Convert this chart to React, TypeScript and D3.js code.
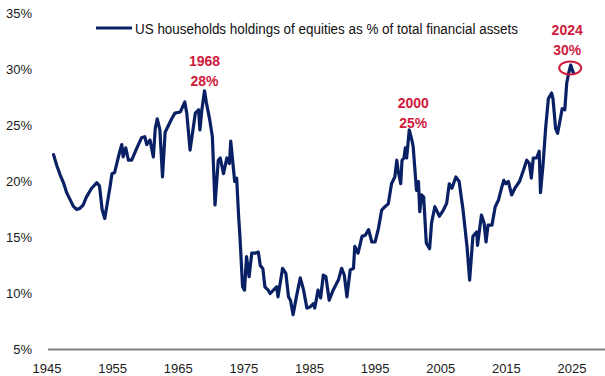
import React from "react";
import * as d3 from "d3";

const years: number[] = [
  1946.0, 1946.5, 1947.0, 1947.5, 1948.0, 1948.5, 1949.0, 1949.5, 1950.0, 1950.5,
  1951.0, 1951.8, 1952.6, 1953.0, 1953.4, 1953.8, 1954.6, 1954.9, 1955.3, 1955.8,
  1956.1, 1956.4, 1956.6, 1957.0, 1957.4, 1957.9, 1958.7, 1959.4, 1959.9, 1960.2,
  1960.7, 1961.2, 1961.5, 1961.8, 1962.2, 1962.6, 1963.0, 1963.5, 1964.0, 1964.5,
  1965.3, 1966.0, 1966.3, 1966.8, 1967.6, 1968.1, 1968.3, 1968.6, 1969.0, 1969.3,
  1969.8, 1970.2, 1970.6, 1971.1, 1971.4, 1971.9, 1972.4, 1972.8, 1973.0, 1973.3,
  1973.6, 1973.9, 1974.2, 1974.4, 1974.8, 1975.1, 1975.4, 1975.8, 1976.2, 1976.7,
  1977.2, 1977.5, 1977.9, 1978.2, 1978.7, 1979.0, 1979.5, 1980.0, 1980.2, 1980.9,
  1981.4, 1981.8, 1982.1, 1982.5, 1983.0, 1983.6, 1984.1, 1984.6, 1985.1, 1985.6,
  1985.8, 1986.3, 1986.7, 1987.1, 1987.5, 1988.0, 1988.6, 1989.4, 1989.9, 1990.3,
  1990.7, 1991.2, 1991.7, 1991.9, 1992.4, 1993.0, 1993.5, 1994.0, 1994.5, 1995.0,
  1995.5, 1996.0, 1996.5, 1997.0, 1997.5, 1998.0, 1998.3, 1998.5, 1998.9, 1999.1,
  1999.4, 1999.6, 1999.8, 2000.2, 2000.6, 2000.8, 2001.3, 2001.6, 2001.8, 2002.1,
  2002.4, 2002.8, 2003.3, 2003.6, 2004.1, 2004.8, 2005.4, 2005.9, 2006.3, 2006.7,
  2007.3, 2007.8, 2008.4, 2009.0, 2009.4, 2009.9, 2010.5, 2010.6, 2011.2, 2011.6,
  2011.9, 2012.2, 2012.8, 2013.3, 2013.8, 2014.3, 2014.6, 2014.9, 2015.3, 2015.8,
  2016.3, 2017.0, 2017.6, 2018.1, 2018.5, 2018.8, 2019.1, 2019.6, 2020.0, 2020.2,
  2020.6, 2021.0, 2021.4, 2021.9, 2022.1, 2022.5, 2022.8, 2023.1, 2023.5, 2023.9,
  2024.2, 2024.5, 2024.8, 2025.2,
];

const equityShare: number[] = [
  22.4, 21.4, 20.6, 19.9, 19.0, 18.4, 17.8, 17.5, 17.6, 17.9,
  18.6, 19.4, 19.9, 19.6, 17.5, 16.7, 19.5, 20.7, 20.8, 22.0,
  22.7, 23.3, 22.2, 23.0, 21.9, 21.9, 23.0, 23.9, 24.0, 23.3,
  23.7, 22.2, 24.75, 25.6, 24.6, 20.4, 24.4, 25.0, 25.6, 26.1,
  26.2, 27.1, 26.1, 22.8, 26.1, 26.4, 24.6, 26.4, 28.1, 27.0,
  25.5, 24.0, 17.9, 21.9, 22.1, 20.7, 22.1, 21.6, 23.6, 21.8,
  20.0, 20.3, 16.9, 15.1, 10.6, 10.3, 13.3, 11.5, 13.6, 13.6,
  13.7, 12.5, 12.2, 10.6, 10.3, 10.0, 10.3, 10.6, 9.7, 12.25,
  11.8, 9.7, 9.4, 8.1, 9.7, 11.4, 10.3, 8.7, 8.8, 9.1,
  8.7, 10.3, 9.6, 11.65, 11.5, 9.4, 10.3, 11.2, 12.25, 11.65,
  9.7, 12.1, 12.25, 14.2, 13.6, 15.1, 15.2, 15.7, 14.6, 14.6,
  15.8, 17.45, 17.75, 18.0, 19.8, 20.4, 21.9, 21.0, 19.8, 21.9,
  22.1, 23.0, 22.1, 24.6, 23.7, 23.1, 19.2, 20.0, 17.3, 18.8,
  18.6, 14.5, 14.0, 16.3, 17.75, 16.9, 17.45, 18.05, 19.8, 19.4,
  20.4, 20.0, 17.45, 14.2, 11.2, 15.1, 15.5, 14.3, 17.0, 16.3,
  14.6, 16.1, 16.1, 17.75, 18.35, 19.5, 20.1, 19.8, 20.0, 18.8,
  19.4, 20.0, 21.0, 21.9, 21.6, 20.3, 22.1, 22.1, 22.7, 19.0,
  21.6, 24.9, 27.4, 27.9, 27.4, 24.75, 24.3, 25.2, 26.5, 26.4,
  28.8, 29.7, 30.4, 29.7,
];

const xTicks: number[] = [1945, 1955, 1965, 1975, 1985, 1995, 2005, 2015, 2025];
const yTicks: number[] = [5, 10, 15, 20, 25, 30, 35];

const peakLabels: string[] = ["1968", "2000", "2024"];
const peakPcts: string[] = ["28%", "25%", "30%"];
const peakYears: number[] = [1969.0, 2000.2, 2024.8];
const peakValues: number[] = [28.1, 24.6, 30.4];

const legendLabel = "US households holdings of equities as % of total financial assets";

const NAVY = "#0A2065";
const RED = "#D01A3C";
const FONT = "'Liberation Sans', Arial, sans-serif";

export default function App() {
  const W = 605;
  const H = 376;
  const x = d3.scaleLinear().domain([1945, 2025]).range([47, 572]);
  const y = d3.scaleLinear().domain([5, 35]).range([349.5, 13.5]);

  const pts = years.map((yr, i) => [yr, equityShare[i]] as [number, number]);
  const line = d3
    .line<[number, number]>()
    .x((d) => x(d[0]))
    .y((d) => y(d[1]))
    .curve(d3.curveLinear);

  // label layout offsets (px) relative to each peak
  const labelDx = [0, 4, -3.5];
  const labelDy = [-4.5, -2, -10];
  const legendScale = 0.83;

  return (
    <svg
      width={W}
      height={H}
      viewBox={`0 0 ${W} ${H}`}
      style={{ position: "absolute", left: 0, top: 0, background: "#fff" }}
      fontFamily={FONT}
    >
      <rect x={0} y={0} width={W} height={H} fill="#fff" />
      {yTicks.map((t) => (
        <text
          key={t}
          x={32}
          y={y(t)}
          dy="0.35em"
          textAnchor="end"
          fontSize={13}
          fill="#1a1a1a"
        >
          {t}%
        </text>
      ))}
      <line x1={48} x2={W} y1={y(5)} y2={y(5)} stroke="#7f7f7f" strokeWidth={2} />
      {xTicks.map((t) => (
        <text
          key={t}
          x={x(t)}
          y={y(5) + 23}
          textAnchor="middle"
          fontSize={13}
          fill="#1a1a1a"
        >
          {t}
        </text>
      ))}
      <path
        d={line(pts) || ""}
        fill="none"
        stroke={NAVY}
        strokeWidth={3.2}
        strokeLinejoin="round"
        strokeLinecap="round"
      />
      <line x1={96} x2={132} y1={28} y2={28} stroke={NAVY} strokeWidth={3} />
      <g transform={`translate(135,33.5) scale(${legendScale},1)`}>
        <text
          x={0}
          y={0}
          fontSize={15.5}
          fill="#111"
          textLength={383 / legendScale}
          lengthAdjust="spacingAndGlyphs"
        >
          {legendLabel}
        </text>
      </g>
      {peakLabels.map((lab, i) => {
        const px = x(peakYears[i]);
        const py = y(peakValues[i]);
        const last = i === peakLabels.length - 1;
        const pctY = py + labelDy[i];
        const lx = px + labelDx[i];
        return (
          <g key={lab}>
            <text x={lx} y={pctY} textAnchor="middle" fontSize={14} fontWeight="bold" fill={RED}>
              {peakPcts[i]}
            </text>
            <text x={lx} y={pctY - 20} textAnchor="middle" fontSize={14} fontWeight="bold" fill={RED}>
              {lab}
            </text>
            {last && (
              <ellipse
                cx={px - 0.5}
                cy={py + 3}
                rx={11}
                ry={6.5}
                fill="none"
                stroke={RED}
                strokeWidth={2}
              />
            )}
          </g>
        );
      })}
    </svg>
  );
}
